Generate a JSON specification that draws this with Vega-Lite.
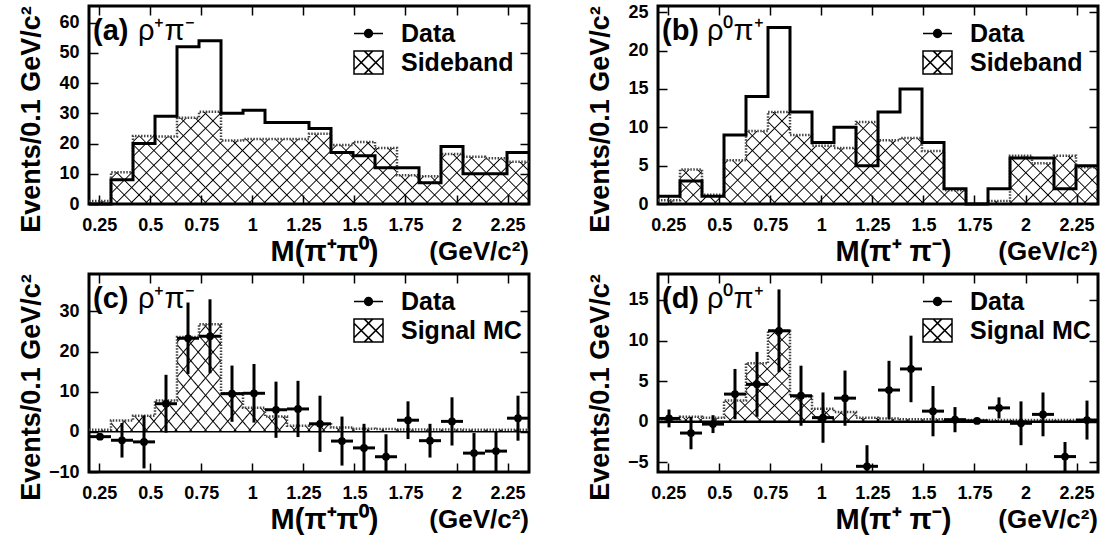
{
"$schema": "https://vega.github.io/schema/vega-lite/v6.json",
"padding": {"left": 15, "top": 1, "right": 0, "bottom": 0},
"background": "white",
"datasets": {"h": [
{"p":"a","lo":0.2,"hi":0.3078,"d":0,"s":1},
{"p":"a","lo":0.3078,"hi":0.4155,"d":8,"s":10.5},
{"p":"a","lo":0.4155,"hi":0.5233,"d":20,"s":22.5},
{"p":"a","lo":0.5233,"hi":0.631,"d":29,"s":22.3},
{"p":"a","lo":0.631,"hi":0.7388,"d":52,"s":28.5},
{"p":"a","lo":0.7388,"hi":0.8465,"d":54,"s":30.5},
{"p":"a","lo":0.8465,"hi":0.9543,"d":30,"s":21},
{"p":"a","lo":0.9543,"hi":1.062,"d":31,"s":21.5},
{"p":"a","lo":1.062,"hi":1.1698,"d":27,"s":21.5},
{"p":"a","lo":1.1698,"hi":1.2775,"d":27,"s":21.5},
{"p":"a","lo":1.2775,"hi":1.3853,"d":25,"s":23.2},
{"p":"a","lo":1.3853,"hi":1.493,"d":17,"s":19.5},
{"p":"a","lo":1.493,"hi":1.6008,"d":16,"s":20.5},
{"p":"a","lo":1.6008,"hi":1.7085,"d":12,"s":18.5},
{"p":"a","lo":1.7085,"hi":1.8163,"d":12,"s":9.5},
{"p":"a","lo":1.8163,"hi":1.924,"d":7,"s":9.2},
{"p":"a","lo":1.924,"hi":2.0318,"d":19,"s":16.5},
{"p":"a","lo":2.0318,"hi":2.1395,"d":10,"s":15.6},
{"p":"a","lo":2.1395,"hi":2.2473,"d":10,"s":15.1},
{"p":"a","lo":2.2473,"hi":2.355,"d":17,"s":14},
{"p":"b","lo":0.2,"hi":0.3078,"d":1,"s":0.5},
{"p":"b","lo":0.3078,"hi":0.4155,"d":3,"s":4.5},
{"p":"b","lo":0.4155,"hi":0.5233,"d":1,"s":1.2},
{"p":"b","lo":0.5233,"hi":0.631,"d":9,"s":5.7},
{"p":"b","lo":0.631,"hi":0.7388,"d":14,"s":9.5},
{"p":"b","lo":0.7388,"hi":0.8465,"d":23,"s":12},
{"p":"b","lo":0.8465,"hi":0.9543,"d":12,"s":9},
{"p":"b","lo":0.9543,"hi":1.062,"d":8,"s":7.6},
{"p":"b","lo":1.062,"hi":1.1698,"d":10,"s":7.3},
{"p":"b","lo":1.1698,"hi":1.2775,"d":5,"s":10.7},
{"p":"b","lo":1.2775,"hi":1.3853,"d":12,"s":8.3},
{"p":"b","lo":1.3853,"hi":1.493,"d":15,"s":8.6},
{"p":"b","lo":1.493,"hi":1.6008,"d":8,"s":6.9},
{"p":"b","lo":1.6008,"hi":1.7085,"d":2,"s":1.8},
{"p":"b","lo":1.7085,"hi":1.8163,"d":0,"s":0},
{"p":"b","lo":1.8163,"hi":1.924,"d":2,"s":0.4},
{"p":"b","lo":1.924,"hi":2.0318,"d":6,"s":6.3},
{"p":"b","lo":2.0318,"hi":2.1395,"d":6,"s":5.3},
{"p":"b","lo":2.1395,"hi":2.2473,"d":2,"s":6.3},
{"p":"b","lo":2.2473,"hi":2.355,"d":5,"s":4.8},
{"p":"c","lo":0.2,"hi":0.3078,"m":0.2539,"d":-1.2,"e":0.8,"s":0.5},
{"p":"c","lo":0.3078,"hi":0.4155,"m":0.3616,"d":-2.1,"e":4.3,"s":2.8},
{"p":"c","lo":0.4155,"hi":0.5233,"m":0.4694,"d":-2.5,"e":6.6,"s":4},
{"p":"c","lo":0.5233,"hi":0.631,"m":0.5771,"d":7,"e":7.2,"s":7.8},
{"p":"c","lo":0.631,"hi":0.7388,"m":0.6849,"d":23.3,"e":8.9,"s":23.6},
{"p":"c","lo":0.7388,"hi":0.8465,"m":0.7926,"d":23.8,"e":9.2,"s":26.8},
{"p":"c","lo":0.8465,"hi":0.9543,"m":0.9004,"d":9.5,"e":7,"s":9.6},
{"p":"c","lo":0.9543,"hi":1.062,"m":1.0081,"d":9.6,"e":7.3,"s":6},
{"p":"c","lo":1.062,"hi":1.1698,"m":1.1159,"d":5.5,"e":7,"s":3.8},
{"p":"c","lo":1.1698,"hi":1.2775,"m":1.2236,"d":5.7,"e":7,"s":1.5},
{"p":"c","lo":1.2775,"hi":1.3853,"m":1.3314,"d":2,"e":7,"s":1.9},
{"p":"c","lo":1.3853,"hi":1.493,"m":1.4391,"d":-2.3,"e":6.1,"s":1.1},
{"p":"c","lo":1.493,"hi":1.6008,"m":1.5469,"d":-4,"e":6,"s":0.8},
{"p":"c","lo":1.6008,"hi":1.7085,"m":1.6546,"d":-6.2,"e":5.6,"s":0.7},
{"p":"c","lo":1.7085,"hi":1.8163,"m":1.7624,"d":2.9,"e":4.7,"s":0.6},
{"p":"c","lo":1.8163,"hi":1.924,"m":1.8701,"d":-2.2,"e":4.2,"s":0.6},
{"p":"c","lo":1.924,"hi":2.0318,"m":1.9779,"d":2.6,"e":6,"s":0.6},
{"p":"c","lo":2.0318,"hi":2.1395,"m":2.0856,"d":-5.3,"e":5,"s":0.5},
{"p":"c","lo":2.1395,"hi":2.2473,"m":2.1934,"d":-4.8,"e":5,"s":0.5},
{"p":"c","lo":2.2473,"hi":2.355,"m":2.3011,"d":3.4,"e":5.6,"s":0.5},
{"p":"d","lo":0.2,"hi":0.3078,"m":0.2539,"d":0.4,"e":1.1,"s":0.3},
{"p":"d","lo":0.3078,"hi":0.4155,"m":0.3616,"d":-1.4,"e":2,"s":0.6},
{"p":"d","lo":0.4155,"hi":0.5233,"m":0.4694,"d":-0.3,"e":1.1,"s":0.5},
{"p":"d","lo":0.5233,"hi":0.631,"m":0.5771,"d":3.4,"e":3.1,"s":2.6},
{"p":"d","lo":0.631,"hi":0.7388,"m":0.6849,"d":4.6,"e":4,"s":7.2},
{"p":"d","lo":0.7388,"hi":0.8465,"m":0.7926,"d":11.2,"e":5.1,"s":11.2},
{"p":"d","lo":0.8465,"hi":0.9543,"m":0.9004,"d":3.2,"e":3.7,"s":3.1},
{"p":"d","lo":0.9543,"hi":1.062,"m":1.0081,"d":0.5,"e":3.1,"s":1.6},
{"p":"d","lo":1.062,"hi":1.1698,"m":1.1159,"d":2.9,"e":3.4,"s":1.2},
{"p":"d","lo":1.1698,"hi":1.2775,"m":1.2236,"d":-5.5,"e":2.6,"s":0.5},
{"p":"d","lo":1.2775,"hi":1.3853,"m":1.3314,"d":3.9,"e":3.6,"s":0.4},
{"p":"d","lo":1.3853,"hi":1.493,"m":1.4391,"d":6.5,"e":4.1,"s":0.3},
{"p":"d","lo":1.493,"hi":1.6008,"m":1.5469,"d":1.3,"e":3.1,"s":0.3},
{"p":"d","lo":1.6008,"hi":1.7085,"m":1.6546,"d":0.25,"e":1.55,"s":0.2},
{"p":"d","lo":1.7085,"hi":1.8163,"m":1.7624,"d":0.1,"e":0,"s":0.2},
{"p":"d","lo":1.8163,"hi":1.924,"m":1.8701,"d":1.7,"e":1.3,"s":0.2},
{"p":"d","lo":1.924,"hi":2.0318,"m":1.9779,"d":-0.2,"e":2.7,"s":0.2},
{"p":"d","lo":2.0318,"hi":2.1395,"m":2.0856,"d":0.9,"e":2.7,"s":0.2},
{"p":"d","lo":2.1395,"hi":2.2473,"m":2.1934,"d":-4.3,"e":1.8,"s":0.2},
{"p":"d","lo":2.2473,"hi":2.355,"m":2.3011,"d":0.2,"e":2.4,"s":0.2}
]},
"data": {"name": "h"},
"config": {
  "font": "Liberation Sans",
  "view": {"stroke": "black", "strokeWidth": 3},
  "axis": {"grid": false, "domain": false, "ticks": true, "tickColor": "black", "tickWidth": 1.5, "tickSize": -9, "labelFontSize": 18, "labelFontWeight": "bold", "labelColor": "black", "labelFlush": false, "labelOverlap": false, "titleFontWeight": "bold", "titleColor": "black", "zindex": 1},
  "axisX": {"labelPadding": 21},
  "axisY": {"labelPadding": 19},
  "legend": {"padding": 0, "labelFontSize": 25, "labelFontWeight": "bold", "labelColor": "black", "labelOffset": 17, "rowPadding": 0, "symbolSize": 841},
  "style": {
    "hatchA": {"color": {"gradient": "linear", "x1": 0, "y1": 0, "x2": 1.1584, "y2": 0.2422, "stops": [
{"offset":0,"color":"rgba(0,0,0,0)"},
{"offset":0.0253,"color":"rgba(0,0,0,0)"},{"offset":0.0278,"color":"#000"},{"offset":0.0303,"color":"rgba(0,0,0,0)"},
{"offset":0.0531,"color":"rgba(0,0,0,0)"},{"offset":0.0556,"color":"#000"},{"offset":0.0581,"color":"rgba(0,0,0,0)"},
{"offset":0.0808,"color":"rgba(0,0,0,0)"},{"offset":0.0833,"color":"#000"},{"offset":0.0858,"color":"rgba(0,0,0,0)"},
{"offset":0.1086,"color":"rgba(0,0,0,0)"},{"offset":0.1111,"color":"#000"},{"offset":0.1136,"color":"rgba(0,0,0,0)"},
{"offset":0.1364,"color":"rgba(0,0,0,0)"},{"offset":0.1389,"color":"#000"},{"offset":0.1414,"color":"rgba(0,0,0,0)"},
{"offset":0.1642,"color":"rgba(0,0,0,0)"},{"offset":0.1667,"color":"#000"},{"offset":0.1692,"color":"rgba(0,0,0,0)"},
{"offset":0.1919,"color":"rgba(0,0,0,0)"},{"offset":0.1944,"color":"#000"},{"offset":0.1969,"color":"rgba(0,0,0,0)"},
{"offset":0.2197,"color":"rgba(0,0,0,0)"},{"offset":0.2222,"color":"#000"},{"offset":0.2247,"color":"rgba(0,0,0,0)"},
{"offset":0.2475,"color":"rgba(0,0,0,0)"},{"offset":0.25,"color":"#000"},{"offset":0.2525,"color":"rgba(0,0,0,0)"},
{"offset":0.2753,"color":"rgba(0,0,0,0)"},{"offset":0.2778,"color":"#000"},{"offset":0.2803,"color":"rgba(0,0,0,0)"},
{"offset":0.3031,"color":"rgba(0,0,0,0)"},{"offset":0.3056,"color":"#000"},{"offset":0.3081,"color":"rgba(0,0,0,0)"},
{"offset":0.3308,"color":"rgba(0,0,0,0)"},{"offset":0.3333,"color":"#000"},{"offset":0.3358,"color":"rgba(0,0,0,0)"},
{"offset":0.3586,"color":"rgba(0,0,0,0)"},{"offset":0.3611,"color":"#000"},{"offset":0.3636,"color":"rgba(0,0,0,0)"},
{"offset":0.3864,"color":"rgba(0,0,0,0)"},{"offset":0.3889,"color":"#000"},{"offset":0.3914,"color":"rgba(0,0,0,0)"},
{"offset":0.4142,"color":"rgba(0,0,0,0)"},{"offset":0.4167,"color":"#000"},{"offset":0.4192,"color":"rgba(0,0,0,0)"},
{"offset":0.4419,"color":"rgba(0,0,0,0)"},{"offset":0.4444,"color":"#000"},{"offset":0.4469,"color":"rgba(0,0,0,0)"},
{"offset":0.4697,"color":"rgba(0,0,0,0)"},{"offset":0.4722,"color":"#000"},{"offset":0.4747,"color":"rgba(0,0,0,0)"},
{"offset":0.4975,"color":"rgba(0,0,0,0)"},{"offset":0.5,"color":"#000"},{"offset":0.5025,"color":"rgba(0,0,0,0)"},
{"offset":0.5253,"color":"rgba(0,0,0,0)"},{"offset":0.5278,"color":"#000"},{"offset":0.5303,"color":"rgba(0,0,0,0)"},
{"offset":0.5531,"color":"rgba(0,0,0,0)"},{"offset":0.5556,"color":"#000"},{"offset":0.5581,"color":"rgba(0,0,0,0)"},
{"offset":0.5808,"color":"rgba(0,0,0,0)"},{"offset":0.5833,"color":"#000"},{"offset":0.5858,"color":"rgba(0,0,0,0)"},
{"offset":0.6086,"color":"rgba(0,0,0,0)"},{"offset":0.6111,"color":"#000"},{"offset":0.6136,"color":"rgba(0,0,0,0)"},
{"offset":0.6364,"color":"rgba(0,0,0,0)"},{"offset":0.6389,"color":"#000"},{"offset":0.6414,"color":"rgba(0,0,0,0)"},
{"offset":0.6642,"color":"rgba(0,0,0,0)"},{"offset":0.6667,"color":"#000"},{"offset":0.6692,"color":"rgba(0,0,0,0)"},
{"offset":0.6919,"color":"rgba(0,0,0,0)"},{"offset":0.6944,"color":"#000"},{"offset":0.6969,"color":"rgba(0,0,0,0)"},
{"offset":0.7197,"color":"rgba(0,0,0,0)"},{"offset":0.7222,"color":"#000"},{"offset":0.7247,"color":"rgba(0,0,0,0)"},
{"offset":0.7475,"color":"rgba(0,0,0,0)"},{"offset":0.75,"color":"#000"},{"offset":0.7525,"color":"rgba(0,0,0,0)"},
{"offset":0.7753,"color":"rgba(0,0,0,0)"},{"offset":0.7778,"color":"#000"},{"offset":0.7803,"color":"rgba(0,0,0,0)"},
{"offset":0.8031,"color":"rgba(0,0,0,0)"},{"offset":0.8056,"color":"#000"},{"offset":0.8081,"color":"rgba(0,0,0,0)"},
{"offset":0.8308,"color":"rgba(0,0,0,0)"},{"offset":0.8333,"color":"#000"},{"offset":0.8358,"color":"rgba(0,0,0,0)"},
{"offset":0.8586,"color":"rgba(0,0,0,0)"},{"offset":0.8611,"color":"#000"},{"offset":0.8636,"color":"rgba(0,0,0,0)"},
{"offset":0.8864,"color":"rgba(0,0,0,0)"},{"offset":0.8889,"color":"#000"},{"offset":0.8914,"color":"rgba(0,0,0,0)"},
{"offset":0.9142,"color":"rgba(0,0,0,0)"},{"offset":0.9167,"color":"#000"},{"offset":0.9192,"color":"rgba(0,0,0,0)"},
{"offset":0.9419,"color":"rgba(0,0,0,0)"},{"offset":0.9444,"color":"#000"},{"offset":0.9469,"color":"rgba(0,0,0,0)"},
{"offset":0.9697,"color":"rgba(0,0,0,0)"},{"offset":0.9722,"color":"#000"},{"offset":0.9747,"color":"rgba(0,0,0,0)"},
{"offset":1,"color":"rgba(0,0,0,0)"}]}},
    "hatchB": {"color": {"gradient": "linear", "x1": 0, "y1": 1, "x2": 1.1584, "y2": 0.7578, "stops": [
{"offset":0,"color":"rgba(0,0,0,0)"},
{"offset":0.0253,"color":"rgba(0,0,0,0)"},{"offset":0.0278,"color":"#000"},{"offset":0.0303,"color":"rgba(0,0,0,0)"},
{"offset":0.0531,"color":"rgba(0,0,0,0)"},{"offset":0.0556,"color":"#000"},{"offset":0.0581,"color":"rgba(0,0,0,0)"},
{"offset":0.0808,"color":"rgba(0,0,0,0)"},{"offset":0.0833,"color":"#000"},{"offset":0.0858,"color":"rgba(0,0,0,0)"},
{"offset":0.1086,"color":"rgba(0,0,0,0)"},{"offset":0.1111,"color":"#000"},{"offset":0.1136,"color":"rgba(0,0,0,0)"},
{"offset":0.1364,"color":"rgba(0,0,0,0)"},{"offset":0.1389,"color":"#000"},{"offset":0.1414,"color":"rgba(0,0,0,0)"},
{"offset":0.1642,"color":"rgba(0,0,0,0)"},{"offset":0.1667,"color":"#000"},{"offset":0.1692,"color":"rgba(0,0,0,0)"},
{"offset":0.1919,"color":"rgba(0,0,0,0)"},{"offset":0.1944,"color":"#000"},{"offset":0.1969,"color":"rgba(0,0,0,0)"},
{"offset":0.2197,"color":"rgba(0,0,0,0)"},{"offset":0.2222,"color":"#000"},{"offset":0.2247,"color":"rgba(0,0,0,0)"},
{"offset":0.2475,"color":"rgba(0,0,0,0)"},{"offset":0.25,"color":"#000"},{"offset":0.2525,"color":"rgba(0,0,0,0)"},
{"offset":0.2753,"color":"rgba(0,0,0,0)"},{"offset":0.2778,"color":"#000"},{"offset":0.2803,"color":"rgba(0,0,0,0)"},
{"offset":0.3031,"color":"rgba(0,0,0,0)"},{"offset":0.3056,"color":"#000"},{"offset":0.3081,"color":"rgba(0,0,0,0)"},
{"offset":0.3308,"color":"rgba(0,0,0,0)"},{"offset":0.3333,"color":"#000"},{"offset":0.3358,"color":"rgba(0,0,0,0)"},
{"offset":0.3586,"color":"rgba(0,0,0,0)"},{"offset":0.3611,"color":"#000"},{"offset":0.3636,"color":"rgba(0,0,0,0)"},
{"offset":0.3864,"color":"rgba(0,0,0,0)"},{"offset":0.3889,"color":"#000"},{"offset":0.3914,"color":"rgba(0,0,0,0)"},
{"offset":0.4142,"color":"rgba(0,0,0,0)"},{"offset":0.4167,"color":"#000"},{"offset":0.4192,"color":"rgba(0,0,0,0)"},
{"offset":0.4419,"color":"rgba(0,0,0,0)"},{"offset":0.4444,"color":"#000"},{"offset":0.4469,"color":"rgba(0,0,0,0)"},
{"offset":0.4697,"color":"rgba(0,0,0,0)"},{"offset":0.4722,"color":"#000"},{"offset":0.4747,"color":"rgba(0,0,0,0)"},
{"offset":0.4975,"color":"rgba(0,0,0,0)"},{"offset":0.5,"color":"#000"},{"offset":0.5025,"color":"rgba(0,0,0,0)"},
{"offset":0.5253,"color":"rgba(0,0,0,0)"},{"offset":0.5278,"color":"#000"},{"offset":0.5303,"color":"rgba(0,0,0,0)"},
{"offset":0.5531,"color":"rgba(0,0,0,0)"},{"offset":0.5556,"color":"#000"},{"offset":0.5581,"color":"rgba(0,0,0,0)"},
{"offset":0.5808,"color":"rgba(0,0,0,0)"},{"offset":0.5833,"color":"#000"},{"offset":0.5858,"color":"rgba(0,0,0,0)"},
{"offset":0.6086,"color":"rgba(0,0,0,0)"},{"offset":0.6111,"color":"#000"},{"offset":0.6136,"color":"rgba(0,0,0,0)"},
{"offset":0.6364,"color":"rgba(0,0,0,0)"},{"offset":0.6389,"color":"#000"},{"offset":0.6414,"color":"rgba(0,0,0,0)"},
{"offset":0.6642,"color":"rgba(0,0,0,0)"},{"offset":0.6667,"color":"#000"},{"offset":0.6692,"color":"rgba(0,0,0,0)"},
{"offset":0.6919,"color":"rgba(0,0,0,0)"},{"offset":0.6944,"color":"#000"},{"offset":0.6969,"color":"rgba(0,0,0,0)"},
{"offset":0.7197,"color":"rgba(0,0,0,0)"},{"offset":0.7222,"color":"#000"},{"offset":0.7247,"color":"rgba(0,0,0,0)"},
{"offset":0.7475,"color":"rgba(0,0,0,0)"},{"offset":0.75,"color":"#000"},{"offset":0.7525,"color":"rgba(0,0,0,0)"},
{"offset":0.7753,"color":"rgba(0,0,0,0)"},{"offset":0.7778,"color":"#000"},{"offset":0.7803,"color":"rgba(0,0,0,0)"},
{"offset":0.8031,"color":"rgba(0,0,0,0)"},{"offset":0.8056,"color":"#000"},{"offset":0.8081,"color":"rgba(0,0,0,0)"},
{"offset":0.8308,"color":"rgba(0,0,0,0)"},{"offset":0.8333,"color":"#000"},{"offset":0.8358,"color":"rgba(0,0,0,0)"},
{"offset":0.8586,"color":"rgba(0,0,0,0)"},{"offset":0.8611,"color":"#000"},{"offset":0.8636,"color":"rgba(0,0,0,0)"},
{"offset":0.8864,"color":"rgba(0,0,0,0)"},{"offset":0.8889,"color":"#000"},{"offset":0.8914,"color":"rgba(0,0,0,0)"},
{"offset":0.9142,"color":"rgba(0,0,0,0)"},{"offset":0.9167,"color":"#000"},{"offset":0.9192,"color":"rgba(0,0,0,0)"},
{"offset":0.9419,"color":"rgba(0,0,0,0)"},{"offset":0.9444,"color":"#000"},{"offset":0.9469,"color":"rgba(0,0,0,0)"},
{"offset":0.9697,"color":"rgba(0,0,0,0)"},{"offset":0.9722,"color":"#000"},{"offset":0.9747,"color":"rgba(0,0,0,0)"},
{"offset":1,"color":"rgba(0,0,0,0)"}]}}
  }
},
"columns": 2,
"spacing": {"row": 70, "column": 129},
"bounds": "flush",
"resolve": {"scale": {"shape": "independent"}, "legend": {"shape": "independent"}},
"concat": [
{
 "width": 440, "height": 198,
 "layer": [
  {"transform": [{"filter": "datum.p == 'a'"}, {"fold": ["lo", "hi"], "as": ["edge", "x"]}],
   "mark": {"type": "area", "style": "hatchA"},
   "encoding": {
    "x": {"field": "x", "type": "quantitative", "scale": {"domain": [0.2, 2.355], "nice": false, "zero": false}, "axis": {"orient": "bottom", "values": [0.25,0.5,0.75,1,1.25,1.5,1.75,2,2.25], "format": ".3~g", "title": "M(π⁺π⁰)", "titleFontSize": 29, "titleX": 235, "titleY": 56, "titleBaseline": "alphabetic"}},
    "y": {"field": "s", "type": "quantitative", "scale": {"domain": [0, 65.5], "nice": false, "zero": false}, "axis": {"orient": "left", "values": [0,10,20,30,40,50,60], "title": "Events/0.1 GeV/c²", "titleFontSize": 27, "titleX": -50, "titleY": 113, "titleBaseline": "alphabetic"}},
    "y2": {"datum": 0},
    "order": [{"field": "x", "type": "quantitative"}, {"field": "edge", "type": "nominal"}]
   }},
  {"transform": [{"filter": "datum.p == 'a'"}, {"fold": ["lo", "hi"], "as": ["edge", "x"]}],
   "mark": {"type": "area", "style": "hatchB"},
   "encoding": {
    "x": {"field": "x", "type": "quantitative", "axis": {"orient": "top", "values": [0.25,0.5,0.75,1,1.25,1.5,1.75,2,2.25], "labels": false, "title": null}},
    "y": {"field": "s", "type": "quantitative", "axis": {"orient": "right", "values": [0,10,20,30,40,50,60], "labels": false, "title": null}},
    "y2": {"datum": 0},
    "order": [{"field": "x", "type": "quantitative"}, {"field": "edge", "type": "nominal"}]
   }},
  {"transform": [{"filter": "datum.p == 'a'"}, {"fold": ["lo", "hi"], "as": ["edge", "x"]}],
   "mark": {"type": "line", "color": "#444", "strokeWidth": 2.5, "strokeDash": [1.5, 1.5]},
   "encoding": {
    "x": {"field": "x", "type": "quantitative", "axis": null},
    "y": {"field": "s", "type": "quantitative", "axis": null},
    "order": [{"field": "x", "type": "quantitative"}, {"field": "edge", "type": "nominal"}]
   }},
  {"transform": [{"filter": "datum.p == 'a'"}, {"fold": ["lo", "hi"], "as": ["edge", "x"]}],
   "mark": {"type": "line", "color": "black", "strokeWidth": 3},
   "encoding": {
    "x": {"field": "x", "type": "quantitative", "axis": null},
    "y": {"field": "d", "type": "quantitative", "axis": null},
    "order": [{"field": "x", "type": "quantitative"}, {"field": "edge", "type": "nominal"}]
   }},
  {"data": {"values": [{"series": "Data"}, {"series": "Sideband"}]},
   "mark": {"type": "point", "opacity": 0, "filled": false, "color": "black", "strokeWidth": 2},
   "encoding": {
    "shape": {"field": "series", "type": "nominal", "scale": {"domain": ["Data", "Sideband"], "range": ["M-1,0L1,0M-0.27,0A0.27,0.27,0,1,1,0.27,0A0.27,0.27,0,1,1,-0.27,0M-0.17,0A0.17,0.17,0,1,1,0.17,0A0.17,0.17,0,1,1,-0.17,0M-0.07,0A0.07,0.07,0,1,1,0.07,0A0.07,0.07,0,1,1,-0.07,0", "M-1,-0.8L1,-0.8L1,0.8L-1,0.8ZM-1,-0.5L0.3,0.8M-0.3,-0.8L1,0.5M-0.3,0.8L1,-0.5M-1,0.5L0.3,-0.8"]}, "legend": {"title": null, "orient": "none", "legendX": 264, "legendY": 12}}
   }},
  {"data": {"values": [{}]},
   "mark": {"type": "text", "text": "(a)", "align": "left", "baseline": "alphabetic", "dx": 4, "dy": 34, "fontSize": 29, "fontWeight": "bold", "color": "black"},
   "encoding": {"x": {"datum": 0.2, "type": "quantitative", "axis": null}, "y": {"datum": 65.5, "type": "quantitative", "axis": null}}},
  {"data": {"values": [{}]},
   "mark": {"type": "text", "text": "ρ⁺π⁻", "align": "left", "baseline": "alphabetic", "dx": 49, "dy": 34, "fontSize": 29, "fontWeight": "normal", "color": "black"},
   "encoding": {"x": {"datum": 0.2, "type": "quantitative", "axis": null}, "y": {"datum": 65.5, "type": "quantitative", "axis": null}}},
  {"data": {"values": [{}]},
   "mark": {"type": "text", "text": "(GeV/c²)", "align": "right", "baseline": "alphabetic", "dy": 56, "fontSize": 26, "fontWeight": "bold", "color": "black"},
   "encoding": {"x": {"datum": 2.355, "type": "quantitative", "axis": null}, "y": {"datum": 0, "type": "quantitative", "axis": null}}}
 ],
 "resolve": {"axis": {"x": "independent", "y": "independent"}}
},
{
 "width": 440, "height": 198,
 "layer": [
  {"transform": [{"filter": "datum.p == 'b'"}, {"fold": ["lo", "hi"], "as": ["edge", "x"]}],
   "mark": {"type": "area", "style": "hatchA"},
   "encoding": {
    "x": {"field": "x", "type": "quantitative", "scale": {"domain": [0.2, 2.355], "nice": false, "zero": false}, "axis": {"orient": "bottom", "values": [0.25,0.5,0.75,1,1.25,1.5,1.75,2,2.25], "format": ".3~g", "title": "M(π⁺ π⁻)", "titleFontSize": 29, "titleX": 235, "titleY": 56, "titleBaseline": "alphabetic"}},
    "y": {"field": "s", "type": "quantitative", "scale": {"domain": [0, 25.8], "nice": false, "zero": false}, "axis": {"orient": "left", "values": [0,5,10,15,20,25], "title": "Events/0.1 GeV/c²", "titleFontSize": 27, "titleX": -50, "titleY": 113, "titleBaseline": "alphabetic"}},
    "y2": {"datum": 0},
    "order": [{"field": "x", "type": "quantitative"}, {"field": "edge", "type": "nominal"}]
   }},
  {"transform": [{"filter": "datum.p == 'b'"}, {"fold": ["lo", "hi"], "as": ["edge", "x"]}],
   "mark": {"type": "area", "style": "hatchB"},
   "encoding": {
    "x": {"field": "x", "type": "quantitative", "axis": {"orient": "top", "values": [0.25,0.5,0.75,1,1.25,1.5,1.75,2,2.25], "labels": false, "title": null}},
    "y": {"field": "s", "type": "quantitative", "axis": {"orient": "right", "values": [0,5,10,15,20,25], "labels": false, "title": null}},
    "y2": {"datum": 0},
    "order": [{"field": "x", "type": "quantitative"}, {"field": "edge", "type": "nominal"}]
   }},
  {"transform": [{"filter": "datum.p == 'b'"}, {"fold": ["lo", "hi"], "as": ["edge", "x"]}],
   "mark": {"type": "line", "color": "#444", "strokeWidth": 2.5, "strokeDash": [1.5, 1.5]},
   "encoding": {
    "x": {"field": "x", "type": "quantitative", "axis": null},
    "y": {"field": "s", "type": "quantitative", "axis": null},
    "order": [{"field": "x", "type": "quantitative"}, {"field": "edge", "type": "nominal"}]
   }},
  {"transform": [{"filter": "datum.p == 'b'"}, {"fold": ["lo", "hi"], "as": ["edge", "x"]}],
   "mark": {"type": "line", "color": "black", "strokeWidth": 3},
   "encoding": {
    "x": {"field": "x", "type": "quantitative", "axis": null},
    "y": {"field": "d", "type": "quantitative", "axis": null},
    "order": [{"field": "x", "type": "quantitative"}, {"field": "edge", "type": "nominal"}]
   }},
  {"data": {"values": [{"series": "Data"}, {"series": "Sideband"}]},
   "mark": {"type": "point", "opacity": 0, "filled": false, "color": "black", "strokeWidth": 2},
   "encoding": {
    "shape": {"field": "series", "type": "nominal", "scale": {"domain": ["Data", "Sideband"], "range": ["M-1,0L1,0M-0.27,0A0.27,0.27,0,1,1,0.27,0A0.27,0.27,0,1,1,-0.27,0M-0.17,0A0.17,0.17,0,1,1,0.17,0A0.17,0.17,0,1,1,-0.17,0M-0.07,0A0.07,0.07,0,1,1,0.07,0A0.07,0.07,0,1,1,-0.07,0", "M-1,-0.8L1,-0.8L1,0.8L-1,0.8ZM-1,-0.5L0.3,0.8M-0.3,-0.8L1,0.5M-0.3,0.8L1,-0.5M-1,0.5L0.3,-0.8"]}, "legend": {"title": null, "orient": "none", "legendX": 264, "legendY": 12}}
   }},
  {"data": {"values": [{}]},
   "mark": {"type": "text", "text": "(b)", "align": "left", "baseline": "alphabetic", "dx": 4, "dy": 34, "fontSize": 29, "fontWeight": "bold", "color": "black"},
   "encoding": {"x": {"datum": 0.2, "type": "quantitative", "axis": null}, "y": {"datum": 25.8, "type": "quantitative", "axis": null}}},
  {"data": {"values": [{}]},
   "mark": {"type": "text", "text": "ρ⁰π⁺", "align": "left", "baseline": "alphabetic", "dx": 49, "dy": 34, "fontSize": 29, "fontWeight": "normal", "color": "black"},
   "encoding": {"x": {"datum": 0.2, "type": "quantitative", "axis": null}, "y": {"datum": 25.8, "type": "quantitative", "axis": null}}},
  {"data": {"values": [{}]},
   "mark": {"type": "text", "text": "(GeV/c²)", "align": "right", "baseline": "alphabetic", "dy": 56, "fontSize": 26, "fontWeight": "bold", "color": "black"},
   "encoding": {"x": {"datum": 2.355, "type": "quantitative", "axis": null}, "y": {"datum": 0, "type": "quantitative", "axis": null}}}
 ],
 "resolve": {"axis": {"x": "independent", "y": "independent"}}
},
{
 "width": 440, "height": 198,
 "layer": [
  {"transform": [{"filter": "datum.p == 'c'"}, {"fold": ["lo", "hi"], "as": ["edge", "x"]}],
   "mark": {"type": "area", "style": "hatchA"},
   "encoding": {
    "x": {"field": "x", "type": "quantitative", "scale": {"domain": [0.2, 2.355], "nice": false, "zero": false}, "axis": {"orient": "bottom", "values": [0.25,0.5,0.75,1,1.25,1.5,1.75,2,2.25], "format": ".3~g", "title": "M(π⁺π⁰)", "titleFontSize": 29, "titleX": 235, "titleY": 56, "titleBaseline": "alphabetic"}},
    "y": {"field": "s", "type": "quantitative", "scale": {"domain": [-10, 39.3], "nice": false, "zero": false}, "axis": {"orient": "left", "values": [-10,0,10,20,30], "title": "Events/0.1 GeV/c²", "titleFontSize": 27, "titleX": -50, "titleY": 113, "titleBaseline": "alphabetic"}},
    "y2": {"datum": 0},
    "order": [{"field": "x", "type": "quantitative"}, {"field": "edge", "type": "nominal"}]
   }},
  {"transform": [{"filter": "datum.p == 'c'"}, {"fold": ["lo", "hi"], "as": ["edge", "x"]}],
   "mark": {"type": "area", "style": "hatchB"},
   "encoding": {
    "x": {"field": "x", "type": "quantitative", "axis": {"orient": "top", "values": [0.25,0.5,0.75,1,1.25,1.5,1.75,2,2.25], "labels": false, "title": null}},
    "y": {"field": "s", "type": "quantitative", "axis": {"orient": "right", "values": [-10,0,10,20,30], "labels": false, "title": null}},
    "y2": {"datum": 0},
    "order": [{"field": "x", "type": "quantitative"}, {"field": "edge", "type": "nominal"}]
   }},
  {"transform": [{"filter": "datum.p == 'c'"}, {"fold": ["lo", "hi"], "as": ["edge", "x"]}],
   "mark": {"type": "line", "color": "#444", "strokeWidth": 2.5, "strokeDash": [1.5, 1.5]},
   "encoding": {
    "x": {"field": "x", "type": "quantitative", "axis": null},
    "y": {"field": "s", "type": "quantitative", "axis": null},
    "order": [{"field": "x", "type": "quantitative"}, {"field": "edge", "type": "nominal"}]
   }},
  {"data": {"values": [{}]},
   "mark": {"type": "rule", "color": "black", "strokeWidth": 1.5},
   "encoding": {"y": {"datum": 0, "type": "quantitative", "axis": null}}},
  {"transform": [{"filter": "datum.p == 'c'"}],
   "mark": {"type": "rule", "color": "black", "strokeWidth": 3, "clip": true},
   "encoding": {
    "x": {"field": "lo", "type": "quantitative", "axis": null},
    "x2": {"field": "hi"},
    "y": {"field": "d", "type": "quantitative", "axis": null}
   }},
  {"transform": [{"filter": "datum.p == 'c'"}],
   "mark": {"type": "errorbar", "ticks": false, "thickness": 3, "color": "black", "clip": true},
   "encoding": {
    "x": {"field": "m", "type": "quantitative", "axis": null},
    "y": {"field": "d", "type": "quantitative", "axis": null},
    "yError": {"field": "e"}
   }},
  {"transform": [{"filter": "datum.p == 'c'"}],
   "mark": {"type": "point", "filled": true, "color": "black", "size": 60, "opacity": 1, "clip": true},
   "encoding": {
    "x": {"field": "m", "type": "quantitative", "axis": null},
    "y": {"field": "d", "type": "quantitative", "axis": null}
   }},
  {"data": {"values": [{"series": "Data"}, {"series": "Signal MC"}]},
   "mark": {"type": "point", "opacity": 0, "filled": false, "color": "black", "strokeWidth": 2},
   "encoding": {
    "shape": {"field": "series", "type": "nominal", "scale": {"domain": ["Data", "Signal MC"], "range": ["M-1,0L1,0M-0.27,0A0.27,0.27,0,1,1,0.27,0A0.27,0.27,0,1,1,-0.27,0M-0.17,0A0.17,0.17,0,1,1,0.17,0A0.17,0.17,0,1,1,-0.17,0M-0.07,0A0.07,0.07,0,1,1,0.07,0A0.07,0.07,0,1,1,-0.07,0", "M-1,-0.8L1,-0.8L1,0.8L-1,0.8ZM-1,-0.5L0.3,0.8M-0.3,-0.8L1,0.5M-0.3,0.8L1,-0.5M-1,0.5L0.3,-0.8"]}, "legend": {"title": null, "orient": "none", "legendX": 264, "legendY": 12}}
   }},
  {"data": {"values": [{}]},
   "mark": {"type": "text", "text": "(c)", "align": "left", "baseline": "alphabetic", "dx": 4, "dy": 34, "fontSize": 29, "fontWeight": "bold", "color": "black"},
   "encoding": {"x": {"datum": 0.2, "type": "quantitative", "axis": null}, "y": {"datum": 39.3, "type": "quantitative", "axis": null}}},
  {"data": {"values": [{}]},
   "mark": {"type": "text", "text": "ρ⁺π⁻", "align": "left", "baseline": "alphabetic", "dx": 49, "dy": 34, "fontSize": 29, "fontWeight": "normal", "color": "black"},
   "encoding": {"x": {"datum": 0.2, "type": "quantitative", "axis": null}, "y": {"datum": 39.3, "type": "quantitative", "axis": null}}},
  {"data": {"values": [{}]},
   "mark": {"type": "text", "text": "(GeV/c²)", "align": "right", "baseline": "alphabetic", "dy": 56, "fontSize": 26, "fontWeight": "bold", "color": "black"},
   "encoding": {"x": {"datum": 2.355, "type": "quantitative", "axis": null}, "y": {"datum": -10, "type": "quantitative", "axis": null}}}
 ],
 "resolve": {"axis": {"x": "independent", "y": "independent"}}
},
{
 "width": 440, "height": 198,
 "layer": [
  {"transform": [{"filter": "datum.p == 'd'"}, {"fold": ["lo", "hi"], "as": ["edge", "x"]}],
   "mark": {"type": "area", "style": "hatchA"},
   "encoding": {
    "x": {"field": "x", "type": "quantitative", "scale": {"domain": [0.2, 2.355], "nice": false, "zero": false}, "axis": {"orient": "bottom", "values": [0.25,0.5,0.75,1,1.25,1.5,1.75,2,2.25], "format": ".3~g", "title": "M(π⁺ π⁻)", "titleFontSize": 29, "titleX": 235, "titleY": 56, "titleBaseline": "alphabetic"}},
    "y": {"field": "s", "type": "quantitative", "scale": {"domain": [-6.2, 18.2], "nice": false, "zero": false}, "axis": {"orient": "left", "values": [-5,0,5,10,15], "title": "Events/0.1 GeV/c²", "titleFontSize": 27, "titleX": -50, "titleY": 113, "titleBaseline": "alphabetic"}},
    "y2": {"datum": 0},
    "order": [{"field": "x", "type": "quantitative"}, {"field": "edge", "type": "nominal"}]
   }},
  {"transform": [{"filter": "datum.p == 'd'"}, {"fold": ["lo", "hi"], "as": ["edge", "x"]}],
   "mark": {"type": "area", "style": "hatchB"},
   "encoding": {
    "x": {"field": "x", "type": "quantitative", "axis": {"orient": "top", "values": [0.25,0.5,0.75,1,1.25,1.5,1.75,2,2.25], "labels": false, "title": null}},
    "y": {"field": "s", "type": "quantitative", "axis": {"orient": "right", "values": [-5,0,5,10,15], "labels": false, "title": null}},
    "y2": {"datum": 0},
    "order": [{"field": "x", "type": "quantitative"}, {"field": "edge", "type": "nominal"}]
   }},
  {"transform": [{"filter": "datum.p == 'd'"}, {"fold": ["lo", "hi"], "as": ["edge", "x"]}],
   "mark": {"type": "line", "color": "#444", "strokeWidth": 2.5, "strokeDash": [1.5, 1.5]},
   "encoding": {
    "x": {"field": "x", "type": "quantitative", "axis": null},
    "y": {"field": "s", "type": "quantitative", "axis": null},
    "order": [{"field": "x", "type": "quantitative"}, {"field": "edge", "type": "nominal"}]
   }},
  {"data": {"values": [{}]},
   "mark": {"type": "rule", "color": "black", "strokeWidth": 2.5},
   "encoding": {"y": {"datum": 0, "type": "quantitative", "axis": null}}},
  {"transform": [{"filter": "datum.p == 'd'"}],
   "mark": {"type": "rule", "color": "black", "strokeWidth": 3, "clip": true},
   "encoding": {
    "x": {"field": "lo", "type": "quantitative", "axis": null},
    "x2": {"field": "hi"},
    "y": {"field": "d", "type": "quantitative", "axis": null}
   }},
  {"transform": [{"filter": "datum.p == 'd'"}],
   "mark": {"type": "errorbar", "ticks": false, "thickness": 3, "color": "black", "clip": true},
   "encoding": {
    "x": {"field": "m", "type": "quantitative", "axis": null},
    "y": {"field": "d", "type": "quantitative", "axis": null},
    "yError": {"field": "e"}
   }},
  {"transform": [{"filter": "datum.p == 'd'"}],
   "mark": {"type": "point", "filled": true, "color": "black", "size": 60, "opacity": 1, "clip": true},
   "encoding": {
    "x": {"field": "m", "type": "quantitative", "axis": null},
    "y": {"field": "d", "type": "quantitative", "axis": null}
   }},
  {"data": {"values": [{"series": "Data"}, {"series": "Signal MC"}]},
   "mark": {"type": "point", "opacity": 0, "filled": false, "color": "black", "strokeWidth": 2},
   "encoding": {
    "shape": {"field": "series", "type": "nominal", "scale": {"domain": ["Data", "Signal MC"], "range": ["M-1,0L1,0M-0.27,0A0.27,0.27,0,1,1,0.27,0A0.27,0.27,0,1,1,-0.27,0M-0.17,0A0.17,0.17,0,1,1,0.17,0A0.17,0.17,0,1,1,-0.17,0M-0.07,0A0.07,0.07,0,1,1,0.07,0A0.07,0.07,0,1,1,-0.07,0", "M-1,-0.8L1,-0.8L1,0.8L-1,0.8ZM-1,-0.5L0.3,0.8M-0.3,-0.8L1,0.5M-0.3,0.8L1,-0.5M-1,0.5L0.3,-0.8"]}, "legend": {"title": null, "orient": "none", "legendX": 264, "legendY": 12}}
   }},
  {"data": {"values": [{}]},
   "mark": {"type": "text", "text": "(d)", "align": "left", "baseline": "alphabetic", "dx": 4, "dy": 34, "fontSize": 29, "fontWeight": "bold", "color": "black"},
   "encoding": {"x": {"datum": 0.2, "type": "quantitative", "axis": null}, "y": {"datum": 18.2, "type": "quantitative", "axis": null}}},
  {"data": {"values": [{}]},
   "mark": {"type": "text", "text": "ρ⁰π⁺", "align": "left", "baseline": "alphabetic", "dx": 49, "dy": 34, "fontSize": 29, "fontWeight": "normal", "color": "black"},
   "encoding": {"x": {"datum": 0.2, "type": "quantitative", "axis": null}, "y": {"datum": 18.2, "type": "quantitative", "axis": null}}},
  {"data": {"values": [{}]},
   "mark": {"type": "text", "text": "(GeV/c²)", "align": "right", "baseline": "alphabetic", "dy": 56, "fontSize": 26, "fontWeight": "bold", "color": "black"},
   "encoding": {"x": {"datum": 2.355, "type": "quantitative", "axis": null}, "y": {"datum": -6.2, "type": "quantitative", "axis": null}}}
 ],
 "resolve": {"axis": {"x": "independent", "y": "independent"}}
}
]
}
